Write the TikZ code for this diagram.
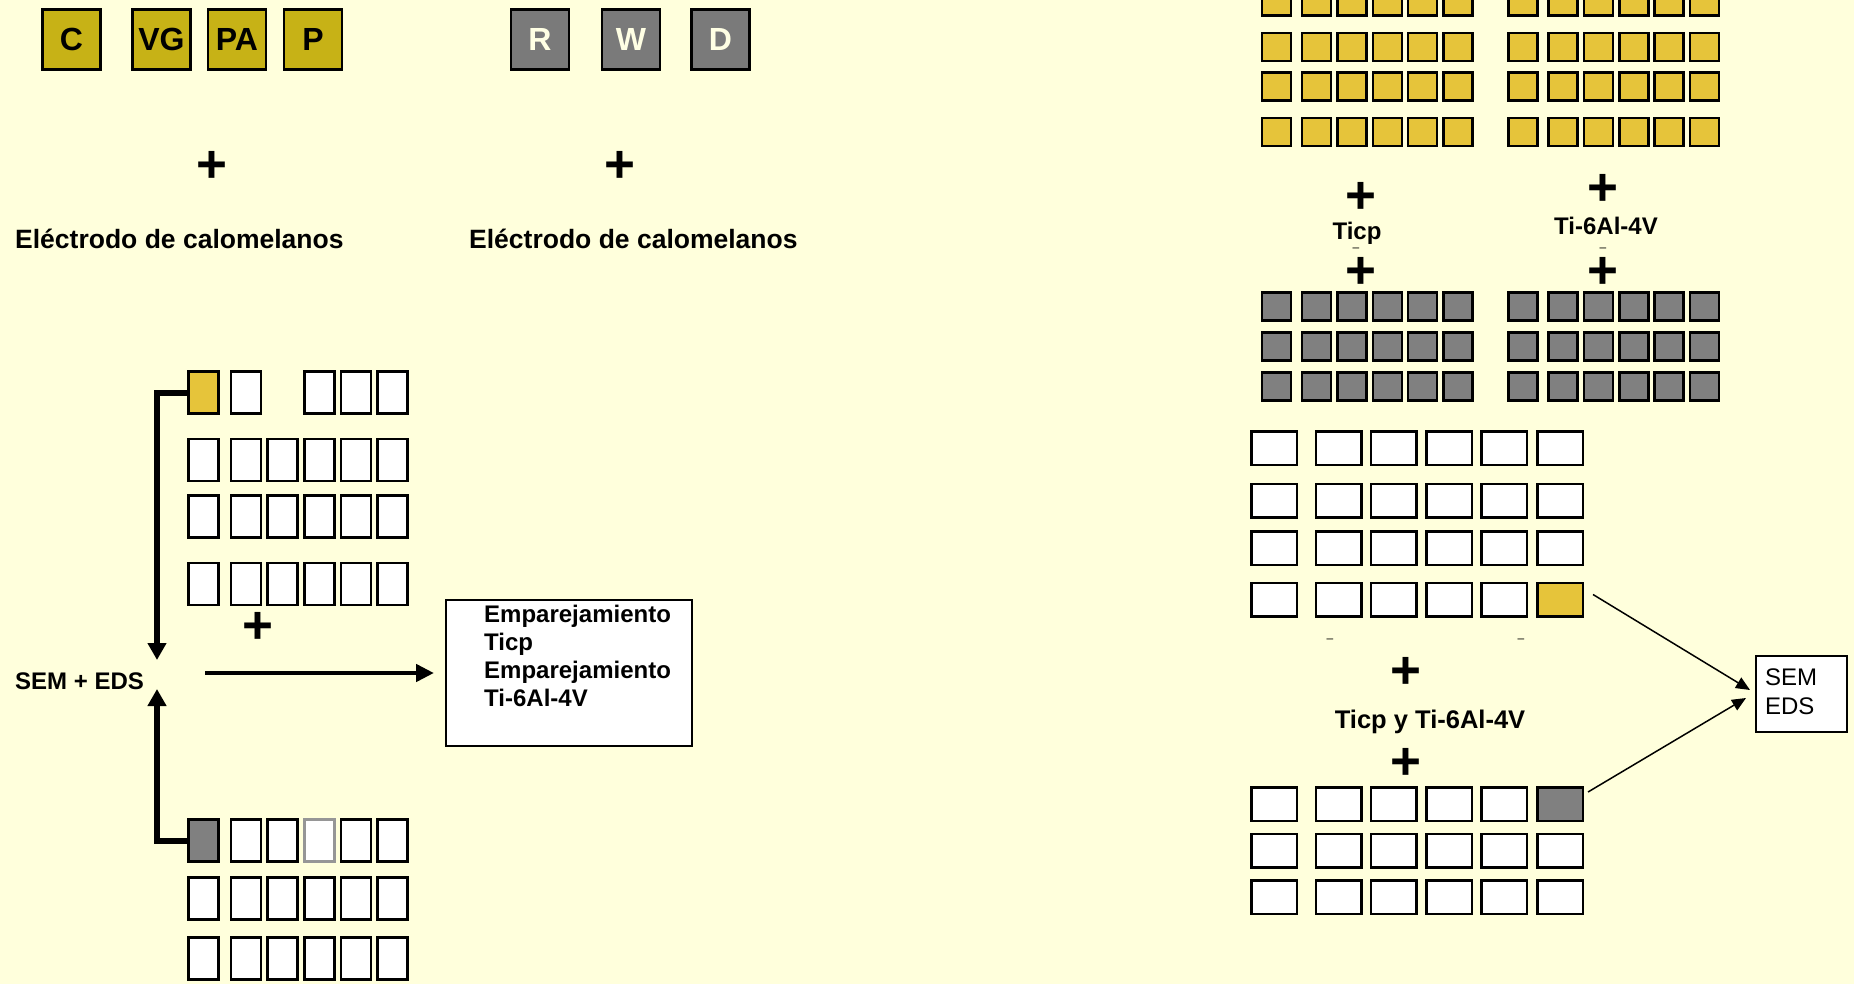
\documentclass[tikz,border=0pt]{standalone}
\usepackage{fontspec}
\setmainfont{Liberation Sans}
\usepackage{tikz}
\usetikzlibrary{arrows.meta, positioning, calc}
\definecolor{pagebg}{RGB}{255, 255, 220}
\definecolor{olivebox}{RGB}{199, 178, 22}
\definecolor{goldcell}{RGB}{230, 196, 58}
\definecolor{steelbox}{RGB}{122, 122, 122}
\definecolor{graycell}{RGB}{128, 128, 128}
\definecolor{creamtxt}{RGB}{255, 255, 228}
\definecolor{faintedge}{RGB}{150, 150, 150}

\begin{document}
\begin{tikzpicture}[x=1pt, y=-1pt,
  lettertag/.style={draw=black, line width=2.5pt, minimum width=58pt, minimum height=60pt, inner sep=0pt, font=\fontsize{32}{36}\selectfont\bfseries},
  smallcell/.style={draw=black, line width=2.6pt, minimum width=29pt, minimum height=28pt, inner sep=0pt},
  widecell/.style={draw=black, line width=2.5pt, fill=white, minimum width=45.5pt, minimum height=33.5pt, inner sep=0pt},
  tallcell/.style={draw=black, line width=2.5pt, fill=white, minimum width=30pt, minimum height=42pt, inner sep=0pt},
  plussign/.style={font=\fontsize{53}{53}\selectfont\bfseries, inner sep=0pt, yshift=-3.5pt},
  boldlbl/.style={font=\fontsize{24}{28.3}\selectfont\bfseries, inner sep=0pt},
  ticklbl/.style={font=\fontsize{12}{12}\selectfont, inner sep=0pt},
  thickarrow/.style={line width=6pt, -{Triangle[length=17pt, width=18pt]}},
  flatarrow/.style={line width=4.5pt, -{Triangle[length=18pt, width=17pt]}},
  thinarrow/.style={line width=1.5pt, -{Triangle[length=14pt, width=12pt]}}]
\useasboundingbox (0,0) rectangle (1854,984);
\fill[pagebg] (0,0) rectangle (1854,984);

% letter tags
\node[lettertag, fill=olivebox] (tagC) at (71.5,39.5) {C};
\node[lettertag, fill=olivebox] (tagVG) at (161.5,39.5) {VG};
\node[lettertag, fill=olivebox] (tagPA) at (237,39.5) {PA};
\node[lettertag, fill=olivebox] (tagP) at (313,39.5) {P};
\node[lettertag, fill=steelbox, text=creamtxt] (tagR) at (540,39.5) {R};
\node[lettertag, fill=steelbox, text=creamtxt] (tagW) at (631,39.5) {W};
\node[lettertag, fill=steelbox, text=creamtxt] (tagD) at (720.5,39.5) {D};
\node[plussign] (plusA) at (212,163) {+};
\node[plussign] (plusB) at (620,163) {+};
\node[font=\fontsize{26.5}{30}\selectfont\bfseries, inner sep=0pt, anchor=base west] (calA) at (15,249) {Eléctrodo de calomelanos};
\node[font=\fontsize{26.5}{30}\selectfont\bfseries, inner sep=0pt, anchor=base west] (calB) at (469,249) {Eléctrodo de calomelanos};

% top right grids
\foreach \y [count=\r] in {1.5,47,86.7,132} {
  \foreach \x [count=\c] in {1276.5,1316.5,1352,1387.5,1422.5,1458} {
    \node[smallcell, fill=goldcell] (yl-\r-\c) at (\x,\y) {};
    \node[smallcell, fill=goldcell] (yr-\r-\c) at (\x+246.5,\y) {};
  }
}
\foreach \y [count=\r] in {306.5,346.5,386.5} {
  \foreach \x [count=\c] in {1276.5,1316.5,1352,1387.5,1422.5,1458} {
    \node[smallcell, fill=graycell] (gl-\r-\c) at (\x,\y) {};
    \node[smallcell, fill=graycell] (gr-\r-\c) at (\x+246.5,\y) {};
  }
}
\node[plussign] (plusC) at (1361,194) {+};
\node[boldlbl, anchor=base] (ticp) at (1357,240) {Ticp};
\node[ticklbl] (tickA) at (1356,249.5) {–};
\node[plussign] (plusD) at (1361,269) {+};
\node[plussign] (plusE) at (1603,186) {+};
\node[boldlbl, anchor=base] (tialv) at (1606,235) {Ti-6Al-4V};
\node[ticklbl] (tickB) at (1603,249.5) {–};
\node[plussign] (plusF) at (1603,269) {+};

% lower right grids
\foreach \y [count=\r] in {448,500.5,548,599.5} {
  \foreach \x [count=\c] in {1274,1338.5,1393.5,1449,1504,1560} {
    \ifnum\r\c=46 \else \node[widecell] (wr-\r-\c) at (\x,\y) {}; \fi
  }
}
\node[widecell, fill=goldcell] (ryel) at (1560,599.5) {};
\foreach \y [count=\r] in {804,850.5,897} {
  \foreach \x [count=\c] in {1274,1338.5,1393.5,1449,1504,1560} {
    \ifnum\r\c=16 \else \node[widecell] (wb-\r-\c) at (\x,\y) {}; \fi
  }
}
\node[widecell, fill=graycell] (rgray) at (1560,804) {};
\node[ticklbl] (tickC) at (1330,641) {–};
\node[ticklbl] (tickD) at (1521,641) {–};
\node[plussign] (plusG) at (1406,669) {+};
\node[font=\fontsize{25.5}{30}\selectfont\bfseries, inner sep=0pt, anchor=base] (both) at (1430,728.5) {Ticp y Ti-6Al-4V};
\node[plussign] (plusH) at (1406,760) {+};
\node[draw=black, line width=2pt, fill=white, minimum width=91pt, minimum height=76pt, text width=73pt, inner sep=8pt, align=left, font=\fontsize{24}{28.5}\selectfont] (sem) at (1801.5,694) {SEM\\EDS\vphantom{g}};
\draw[thinarrow] ([xshift=9pt, yshift=5pt]ryel.east) -- ([xshift=-5pt, yshift=4pt]sem.west);
\draw[thinarrow] ([xshift=4pt, yshift=12pt]rgray.east) -- ([xshift=-9pt, yshift=-4pt]sem.west);

% left grids
\foreach \y [count=\r] in {392.5,460,516.5,584} {
  \foreach \x [count=\c] in {203.5,246,282.6,319.3,355.9,392.5} {
    \ifnum\r\c=11 \else \ifnum\r\c=13 \else \node[tallcell] (la-\r-\c) at (\x,\y) {}; \fi \fi
  }
}
\node[tallcell, fill=goldcell] (lyel) at (203.5,392.5) {};
\foreach \y [count=\r] in {840.5,898.5,958.5} {
  \foreach \x [count=\c] in {203.5,246,282.6,319.3,355.9,392.5} {
    \ifnum\r\c=11 \else \ifnum\r\c=14 \else \node[tallcell] (lb-\r-\c) at (\x,\y) {}; \fi \fi
  }
}
\node[tallcell, fill=graycell] (lgray) at (203.5,840.5) {};
\node[tallcell, draw=faintedge] (lfaint) at (319.3,840.5) {};
\node[plussign] (plusI) at (257.5,624) {+};
\node[boldlbl, anchor=west] (semeds) at (15,681) {SEM + EDS};
\coordinate (hubtop) at (157,660);
\coordinate (hubbot) at (157,689);
\coordinate (hubout) at (205,673);
\node[draw=black, line width=2pt, fill=white, minimum width=246pt, minimum height=146pt, inner sep=0pt, anchor=north west] (emp) at (445,599) {};
\node[boldlbl, align=left, anchor=north west] (emptxt) at (484,604.5) {Emparejamiento\\Ticp\\Emparejamiento\\Ti-6Al-4V};
\draw[thickarrow] (lyel.west) -| (hubtop);
\draw[thickarrow] (lgray.west) -| (hubbot);
\draw[flatarrow, shorten >=11pt] (hubout) -- (emp.west);
\end{tikzpicture}
\end{document}
